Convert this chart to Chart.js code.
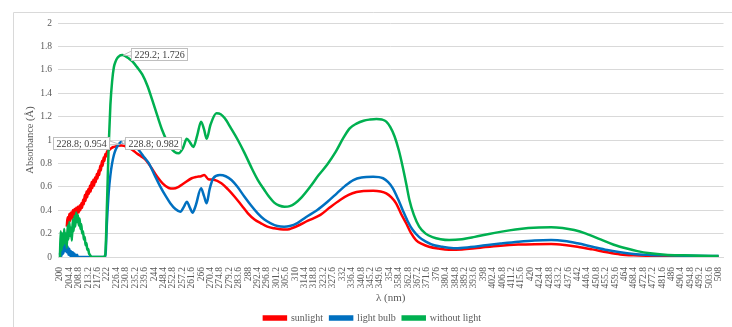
<!DOCTYPE html>
<html>
<head>
<meta charset="utf-8">
<script src="https://cdn.jsdelivr.net/npm/chart.js@4"></script>
<style>
  html, body { margin: 0; padding: 0; background: #ffffff; }
  #wrap { position: relative; width: 732px; height: 327px; }
</style>
</head>
<body>
<div id="wrap"><canvas id="absChart"></canvas></div>
<script>
// wavelength tick labels on the x axis (nm)
const xTickValues = [200, 204.4, 208.8, 213.2, 217.6, 222, 226.4, 230.8, 235.2, 239.6, 244, 248.4,
  252.8, 257.2, 261.6, 266, 270.4, 274.8, 279.2, 283.6, 288, 292.4, 296.8, 301.2, 305.6, 310, 314.4,
  318.8, 323.2, 327.6, 332, 336.4, 340.8, 345.2, 349.6, 354, 358.4, 362.8, 367.2, 371.6, 376, 380.4,
  384.8, 389.2, 393.6, 398, 402.4, 406.8, 411.2, 415.6, 420, 424.4, 428.8, 433.2, 437.6, 442, 446.4,
  450.8, 455.2, 459.6, 464, 468.4, 472.8, 477.2, 481.6, 486, 490.4, 494.8, 499.2, 503.6, 508];

// sunlight
const sunNm = [203.2, 203.6, 204, 204.4, 204.8, 205.2, 205.6, 206, 206.4, 206.8, 207.2, 207.6, 208,
  208.4, 208.8, 209.2, 209.6, 210, 210.4, 210.8, 211.2, 211.6, 212, 212.4, 212.8, 213.2, 213.6, 214,
  214.4, 214.8, 215.2, 215.6, 216, 216.4, 216.8, 217.2, 217.6, 218, 218.4, 218.8, 219.2, 219.6, 220,
  220.4, 220.8, 221.2, 221.6, 222, 223, 224, 225, 226, 227, 228.8, 230, 232, 233.9, 236, 238, 240.1,
  242.5, 245.5, 248, 250.9, 253, 255.5, 258, 261.6, 264, 266, 267.5, 269.4, 272, 275.5, 278.5, 281.7,
  285, 287.9, 291, 294, 297, 300.2, 303, 306.4, 309, 311, 316, 321.8, 326, 331, 335, 338.7, 342,
  346.5, 350, 352.6, 355, 357.2, 359.5, 361.9, 364, 366.5, 369.5, 372.6, 377, 381.9, 388, 394, 398.9,
  406, 414.3, 422, 429.7, 436, 442, 449, 455.9, 462, 468.2, 476, 483.6, 495, 508];
const sunAbs = [0.26, 0.34, 0.28, 0.37, 0.31, 0.38, 0.33, 0.4, 0.34, 0.41, 0.36, 0.42, 0.37,
  0.43, 0.38, 0.44, 0.4, 0.46, 0.42, 0.49, 0.45, 0.53, 0.48, 0.56, 0.51, 0.58, 0.54, 0.61,
  0.56, 0.64, 0.59, 0.66, 0.61, 0.68, 0.64, 0.71, 0.67, 0.74, 0.7, 0.78, 0.74, 0.82, 0.78,
  0.85, 0.82, 0.88, 0.86, 0.9, 0.915, 0.93, 0.94, 0.945, 0.95, 0.954, 0.95, 0.935, 0.915, 0.885, 0.86, 0.83,
  0.77, 0.686, 0.63, 0.59, 0.585, 0.6, 0.63, 0.673, 0.685, 0.69, 0.7, 0.665, 0.66, 0.63, 0.58, 0.515,
  0.44, 0.373, 0.32, 0.288, 0.26, 0.245, 0.237, 0.235, 0.25, 0.265, 0.31, 0.36, 0.42, 0.487, 0.53, 0.555, 0.565,
  0.567, 0.56, 0.544, 0.51, 0.459, 0.37, 0.288, 0.21, 0.145, 0.11, 0.088, 0.072, 0.062, 0.065, 0.075, 0.085,
  0.097, 0.106, 0.11, 0.111, 0.103, 0.088, 0.065, 0.04, 0.022, 0.014, 0.01, 0.008, 0.006, 0.005];

// light bulb
const bulbNm = [200, 200.4, 200.8, 201.2, 201.6, 202, 202.4, 202.8, 203.2, 203.6, 204, 204.4, 204.8,
  205.2, 205.6, 206, 206.4, 206.8, 207.2, 208, 208.4, 221.2, 222, 222.8, 223.6, 224.4, 225.2, 226, 227,
  228, 228.8, 230, 232, 234, 235.5, 237.5, 239.5, 241.6, 244, 247, 249.5, 251.6, 254, 256.3, 258,
  259.3, 260.8, 262, 263.5, 266, 267.4, 268.6, 270, 271.7, 274.8, 277.5, 280.2, 283, 286.3, 289.4,
  292.5, 295.6, 298.6, 301.7, 304.8, 307.5, 311, 315, 320.2, 325, 329.5, 333.5, 337.2, 341, 346.5,
  351.1, 353.5, 355.7, 358, 360.3, 362.5, 365, 368, 371.1, 375, 378.8, 385, 392, 398.9, 406, 414.3,
  422, 429.7, 436, 442, 449, 455.9, 462, 468.2, 476, 483.6, 495, 508];
const bulbAbs = [0.02, 0.06, 0.01, 0.08, 0.03, 0.1, 0.05, 0.12, 0.04, 0.09, 0.02, 0.07, 0.01,
  0.05, 0, 0.04, 0, 0.03, 0, 0.02, 0, 0, 0.3, 0.55, 0.7, 0.8, 0.87, 0.915, 0.95,
  0.975, 0.982, 0.975, 0.96, 0.95, 0.94, 0.9, 0.85, 0.8, 0.71, 0.6, 0.52, 0.46, 0.41, 0.387, 0.43,
  0.473, 0.42, 0.379, 0.44, 0.587, 0.52, 0.459, 0.58, 0.673, 0.7, 0.69, 0.658, 0.6, 0.515, 0.44,
  0.373, 0.32, 0.288, 0.265, 0.259, 0.265, 0.29, 0.34, 0.4, 0.47, 0.544, 0.61, 0.658, 0.68, 0.686,
  0.673, 0.64, 0.587, 0.5, 0.4, 0.31, 0.23, 0.17, 0.131, 0.1, 0.088, 0.075, 0.085, 0.1, 0.115, 0.131,
  0.142, 0.145, 0.137, 0.117, 0.088, 0.06, 0.04, 0.026, 0.018, 0.014, 0.01, 0.008];

// without light
const darkNm = [200, 200.4, 200.8, 201.2, 201.6, 202, 202.4, 202.8, 203.2, 203.6, 204, 204.4, 204.8,
  205.2, 205.6, 206, 206.4, 206.8, 207.2, 207.6, 208, 208.4, 208.8, 209.2, 209.6, 210, 210.4, 210.8,
  211.2, 211.6, 212, 212.4, 212.8, 213.2, 213.6, 214, 214.8, 220.4, 221.2, 222, 222.8, 223.6, 224.4,
  225.2, 226, 226.8, 227.6, 228.4, 229.2, 230.4, 232, 234, 236, 238.5, 241, 243.2, 245.5, 247.8, 249.8,
  251.6, 253.5, 255.5, 257.5, 259.3, 260.8, 262.4, 264.2, 266, 267.4, 268.6, 270.4, 273.2, 275.2,
  277.1, 280, 283.2, 286.3, 289.4, 292.5, 295.6, 298, 300.2, 302.5, 305, 307.5, 310, 313, 317, 321,
  325, 329, 332.6, 335.5, 338.7, 342, 345, 348, 350.5, 352.6, 354.5, 356.5, 358.5, 360.3, 362, 363.4,
  365.5, 368, 371, 374.2, 378, 382, 388, 394, 400, 406.6, 413, 419, 424, 429.7, 435, 440.5, 446,
  452.8, 459, 465.1, 470, 476, 483, 491.4, 500, 508];
const darkAbs = [0, 0.22, 0.06, 0.2, 0.1, 0.24, 0.12, 0.2, 0.08, 0.27, 0.15, 0.3, 0.18,
  0.25, 0.14, 0.32, 0.22, 0.35, 0.26, 0.38, 0.3, 0.36, 0.27, 0.33, 0.24, 0.28, 0.2, 0.22,
  0.15, 0.17, 0.1, 0.12, 0.06, 0.07, 0.03, 0.02, 0, 0, 0.02, 0.45, 0.95, 1.3, 1.5,
  1.62, 1.67, 1.7, 1.715, 1.724, 1.726, 1.72, 1.7, 1.67, 1.625, 1.56, 1.46, 1.34, 1.21, 1.085, 1.0,
  0.94, 0.9, 0.886, 0.93, 1.01, 0.98, 0.94, 1.04, 1.157, 1.09, 1.01, 1.13, 1.228, 1.22,
  1.185, 1.1, 1.0, 0.89, 0.77, 0.66, 0.573, 0.51, 0.465, 0.44, 0.43, 0.435, 0.46, 0.51, 0.6, 0.7,
  0.79, 0.9, 1.02, 1.1, 1.14, 1.165, 1.175, 1.18, 1.175, 1.157, 1.11, 1.03, 0.91, 0.77, 0.62, 0.49,
  0.36, 0.26, 0.2, 0.17, 0.152, 0.145, 0.152, 0.172, 0.195, 0.217, 0.235, 0.247, 0.253, 0.255, 0.248, 0.23, 0.2,
  0.15, 0.105, 0.072, 0.05, 0.032, 0.02, 0.014, 0.01, 0.008];

// labelled peaks: dataset index, wavelength, absorbance
const calloutSeries = [0, 1, 2];
const calloutNm = [228.8, 228.8, 229.2];
const calloutAbs = [0.954, 0.982, 1.726];

const serif = "'Liberation Serif', 'Times New Roman', serif";
const gray = "#595959";

const toPoints = (xs, ys) => xs.map((x, i) => ({ x: x, y: ys[i] }));

// Excel style data callouts
const calloutPlugin = {
  id: "callouts",
  afterDatasetsDraw(chart) {
    const ctx = chart.ctx;
    const xs = chart.scales.x;
    const ys = chart.scales.y;
    ctx.save();
    ctx.font = "10px " + serif;
    ctx.textBaseline = "middle";
    calloutSeries.forEach((s, i) => {
      const px = xs.getPixelForValue(calloutNm[i]);
      const py = ys.getPixelForValue(calloutAbs[i]);
      const text = calloutNm[i] + "; " + calloutAbs[i];
      const w = ctx.measureText(text).width + 6;
      const h = 12;
      let bx, by, tail;
      if (s === 0) {
        bx = px - 12 - w; by = py - 8.5;
        tail = [[bx + w, by + 4], [px - 2, py - 1], [bx + w, by + 8]];
      } else if (s === 1) {
        bx = px + 3; by = py - 5;
        tail = [[bx, by + 3], [px, py], [bx, by + 7]];
      } else {
        bx = px + 9; by = py - 7;
        tail = [[bx, by + 3], [px + 1, py], [bx, by + 8]];
      }
      ctx.fillStyle = "#ffffff";
      ctx.strokeStyle = "#bfbfbf";
      ctx.lineWidth = 1;
      ctx.beginPath();
      ctx.moveTo(tail[0][0], tail[0][1]);
      ctx.lineTo(tail[1][0], tail[1][1]);
      ctx.lineTo(tail[2][0], tail[2][1]);
      ctx.closePath();
      ctx.fill();
      ctx.stroke();
      ctx.fillRect(Math.round(bx) + 0.5, Math.round(by) + 0.5, Math.round(w), h);
      ctx.strokeRect(Math.round(bx) + 0.5, Math.round(by) + 0.5, Math.round(w), h);
      ctx.fillStyle = "#404040";
      ctx.fillText(text, Math.round(bx) + 3.5, Math.round(by) + 0.5 + h / 2 + 0.5);
    });
    ctx.restore();
  },
};

// chart area frame (left and top edges visible)
const framePlugin = {
  id: "frame",
  beforeDraw(chart) {
    const ctx = chart.ctx;
    ctx.save();
    ctx.strokeStyle = "#d9d9d9";
    ctx.lineWidth = 1;
    ctx.beginPath();
    ctx.moveTo(13.5, 400);
    ctx.lineTo(13.5, 12.5);
    ctx.lineTo(740, 12.5);
    ctx.stroke();
    ctx.restore();
  },
};

// keep the legend row compact
const legendFitPlugin = {
  id: "legendFit",
  afterInit(chart) {
    const lg = chart.legend;
    if (!lg) return;
    const orig = lg.fit;
    lg.fit = function () {
      orig.call(this);
      this.height = 21;
    };
  },
};

const ctx = document.getElementById("absChart").getContext("2d");
window.absChart = new Chart(ctx, {
  type: "line",
  data: {
    datasets: [
      {
        label: "sunlight",
        data: toPoints(sunNm, sunAbs),
        borderColor: "#ff0000",
        backgroundColor: "#ff0000",
        borderWidth: 2.5,
        pointRadius: 0,
        cubicInterpolationMode: "monotone",
        order: 3,
      },
      {
        label: "light bulb",
        data: toPoints(bulbNm, bulbAbs),
        borderColor: "#0070c0",
        backgroundColor: "#0070c0",
        borderWidth: 2.5,
        pointRadius: 0,
        cubicInterpolationMode: "monotone",
        order: 2,
      },
      {
        label: "without light",
        data: toPoints(darkNm, darkAbs),
        borderColor: "#00b050",
        backgroundColor: "#00b050",
        borderWidth: 2.5,
        pointRadius: 0,
        cubicInterpolationMode: "monotone",
        order: 1,
      },
    ],
  },
  options: {
    responsive: true,
    maintainAspectRatio: false,
    animation: false,
    layout: {
      padding: { left: 14, right: 1, top: 23, bottom: 0 },
    },
    scales: {
      x: {
        type: "linear",
        min: 199.1,
        max: 510.3,
        afterBuildTicks: (axis) => {
          axis.ticks = xTickValues.map((v) => ({ value: v }));
        },
        afterFit: (axis) => {
          axis.height = 49;
        },
        grid: { display: false },
        border: { display: true, color: "#d9d9d9" },
        ticks: {
          autoSkip: false,
          maxRotation: 90,
          minRotation: 90,
          padding: 2,
          color: gray,
          font: { family: serif, size: 9.5 },
          callback: (v) => String(v),
        },
        title: {
          display: true,
          text: "λ (nm)",
          color: gray,
          font: { family: serif, size: 11 },
          padding: { top: 0, bottom: 1.4 },
        },
      },
      y: {
        min: 0,
        max: 2,
        afterFit: (axis) => {
          axis.width = 44;
        },
        grid: { color: "#d9d9d9", drawTicks: false },
        border: { display: false },
        ticks: {
          stepSize: 0.2,
          padding: 6,
          color: gray,
          font: { family: serif, size: 9.5 },
          callback: (v) => String(Math.round(v * 10) / 10),
        },
        title: {
          display: true,
          text: "Absorbance (Å)",
          color: gray,
          font: { family: serif, size: 10.5 },
          padding: { top: 9.5, bottom: 0 },
        },
      },
    },
    plugins: {
      legend: {
        position: "bottom",
        labels: {
          boxWidth: 22,
          boxHeight: 3,
          padding: 7,
          color: gray,
          font: { family: serif, size: 10 },
          sort: (a, b) => a.datasetIndex - b.datasetIndex,
        },
      },
      tooltip: { enabled: false },
    },
  },
  plugins: [calloutPlugin, framePlugin, legendFitPlugin],
});
</script>
</body>
</html>
